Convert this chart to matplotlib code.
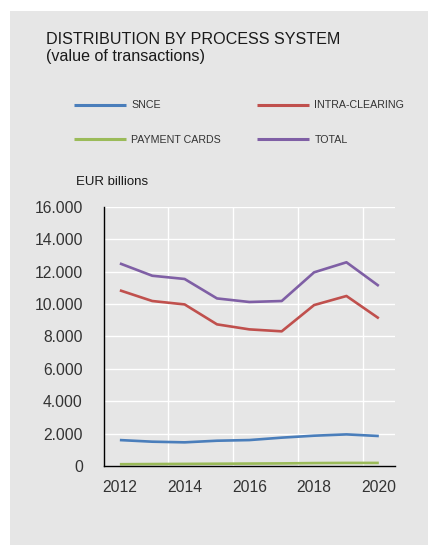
import matplotlib
matplotlib.use("Agg")
import matplotlib.pyplot as plt
import matplotlib.patches as patches
from matplotlib.ticker import FuncFormatter, FixedLocator

plt.rcParams['font.family'] = ['Liberation Sans', 'DejaVu Sans']

years = [2012, 2013, 2014, 2015, 2016, 2017, 2018, 2019, 2020]
snce = [1600, 1500, 1460, 1560, 1600, 1750, 1870, 1950, 1850]
intra_clearing = [10840, 10180, 9970, 8740, 8430, 8310, 9930, 10490, 9110]
payment_cards = [110, 120, 130, 140, 150, 160, 180, 190, 190]
total = [12500, 11740, 11540, 10340, 10120, 10180, 11950, 12570, 11110]

series = [
    ('SNCE', snce, '#4a7ebb'),
    ('INTRA-CLEARING', intra_clearing, '#c0504d'),
    ('PAYMENT CARDS', payment_cards, '#9bbb59'),
    ('TOTAL', total, '#7f5fa5'),
]

W, H = 428, 545
fig = plt.figure(figsize=(W / 100, H / 100), dpi=100)
fig.patch.set_facecolor('white')

# grey panel behind everything
fig.patches.append(patches.Rectangle((10 / W, 0), 1, 1 - 11 / H,
                                     transform=fig.transFigure,
                                     facecolor='#e6e6e6', edgecolor='none',
                                     zorder=-10))

ax = fig.add_axes([103.7 / W, 1 - 466 / H, (395 - 103.7) / W, (466 - 206.7) / H])
ax.set_zorder(5)
ax.set_facecolor('#e6e6e6')

# points sit in the middle of each year slot
xs = [y + 0.5 for y in years]
lines = {}
for name, vals, col in series:
    ln, = ax.plot(xs, vals, color=col, lw=1.9, label=name, solid_capstyle='butt')
    lines[name] = ln

ax.set_xlim(2012, 2021)
ax.set_ylim(0, 16000)
ax.set_yticks(range(0, 16001, 2000))
ax.yaxis.set_major_formatter(FuncFormatter(lambda v, p: f"{int(v):,}".replace(',', '.')))
ax.xaxis.set_major_locator(FixedLocator([y + 0.5 for y in years[::2]]))
ax.xaxis.set_major_formatter(FuncFormatter(lambda v, p: str(int(v))))
ax.xaxis.set_minor_locator(FixedLocator([2014, 2016, 2018, 2020]))

ax.grid(axis='y', which='major', color='white', lw=1)
ax.grid(axis='x', which='minor', color='white', lw=1)
ax.set_axisbelow(True)
ax.tick_params(which='both', length=0)
ax.tick_params(axis='y', pad=15, labelsize=11.3, labelcolor='#333333')
ax.tick_params(axis='x', pad=10, labelsize=11.3, labelcolor='#333333')
for s in ('top', 'right'):
    ax.spines[s].set_visible(False)
for s in ('left', 'bottom'):
    ax.spines[s].set_color('black')
    ax.spines[s].set_linewidth(1)

fig.text(46 / W, 1 - 39 / H, 'DISTRIBUTION BY PROCESS SYSTEM', fontsize=11.6,
         color='#1a1a1a', va='center', ha='left')
fig.text(46 / W, 1 - 57 / H, '(value of transactions)', fontsize=11.6,
         color='#1a1a1a', va='center', ha='left')
fig.text(76 / W, 1 - 182 / H, 'EUR billions', fontsize=9.5,
         color='#1a1a1a', va='center', ha='left')

# legend fills column by column: left column SNCE / PAYMENT CARDS
order = ['SNCE', 'PAYMENT CARDS', 'INTRA-CLEARING', 'TOTAL']
leg = ax.legend(handles=[lines[k] for k in order], ncol=2, loc='upper left',
                bbox_to_anchor=(74 / W, 1 - 100.5 / H), bbox_transform=fig.transFigure,
                frameon=False, fontsize=7.7, handlelength=4.9, handletextpad=0.47,
                columnspacing=3.35, labelspacing=2.3, borderpad=0, borderaxespad=0)
for t in leg.get_texts():
    t.set_color('#333333')
for h in leg.legend_handles:
    h.set_linewidth(2.2)

fig.savefig('out.png', dpi=100)
